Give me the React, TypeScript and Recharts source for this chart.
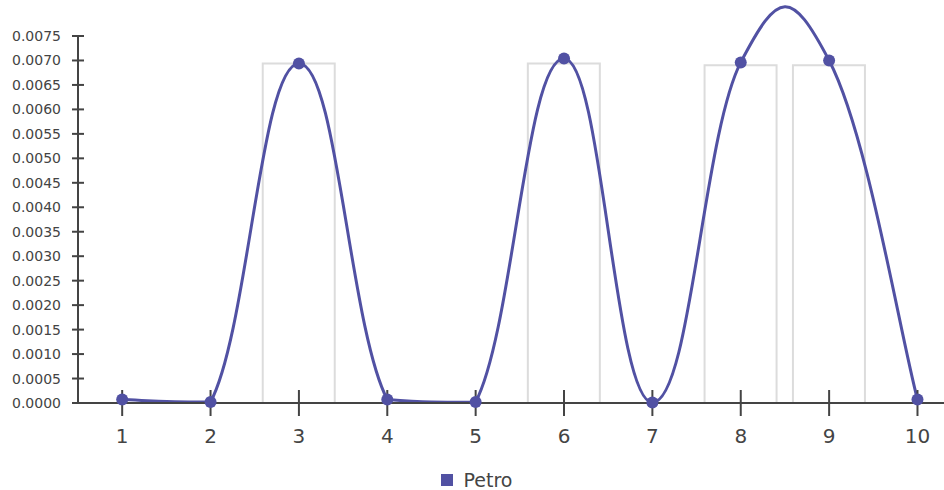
import React from 'react';
import {Bar, ComposedChart, Legend, Line, XAxis, YAxis} from 'recharts';

const xValues = [1, 2, 3, 4, 5, 6, 7, 8, 9, 10];
const petroValues = [0.00007, 0.00002, 0.00694, 0.00007, 0.00002, 0.00704, 0.00001, 0.00696, 0.00700, 0.00007];
const rangeValues = [null, null, 0.00694, null, null, 0.00694, null, 0.0069, 0.0069, null];
const yTicks = [0, 0.0005, 0.001, 0.0015, 0.002, 0.0025, 0.003, 0.0035, 0.004, 0.0045, 0.005, 0.0055, 0.006, 0.0065, 0.007, 0.0075];

const data = xValues.map((x, i) => ({x, petro: petroValues[i], range: rangeValues[i]}));

const LINE = '#5151a3';
const TEXT = '#444';
const FONT = '"DejaVu Sans", sans-serif';

// cardinal-ish spline whose control points may not go below the lowest point
const TENSION = 0.215;
const clampedSpline = (context: any) => {
    let pts: number[][] = [];
    return {
        areaStart() {},
        areaEnd() {},
        lineStart() { pts = []; },
        point(x: number, y: number) { pts.push([+x, +y]); },
        lineEnd() {
            const n = pts.length;
            if (!n) return;
            context.moveTo(pts[0][0], pts[0][1]);
            const floor = Math.max(...pts.map(p => p[1]));
            const tangent = (i: number) => {
                const a = pts[Math.max(i - 1, 0)];
                const b = pts[Math.min(i + 1, n - 1)];
                return [(b[0] - a[0]) * TENSION, (b[1] - a[1]) * TENSION];
            };
            for (let i = 0; i < n - 1; i++) {
                const p = pts[i], q = pts[i + 1];
                const t0 = tangent(i), t1 = tangent(i + 1);
                context.bezierCurveTo(
                    p[0] + t0[0], Math.min(p[1] + t0[1], floor),
                    q[0] - t1[0], Math.min(q[1] - t1[1], floor),
                    q[0], q[1]);
            }
        },
    };
};

const renderLegend = (props: any) => {
    const items = (props.payload || []).filter((p: any) => p.type !== 'none');
    return <div style={{display: 'flex', justifyContent: 'center', paddingLeft: 9}}>
        {items.map((p: any) => <div key={p.value} style={{display: 'flex', alignItems: 'center', height: 18, lineHeight: '18px'}}>
            <svg width={12} height={12} style={{marginRight: 11}}>
                <rect width={12} height={12} fill={p.color}/>
            </svg>
            <span style={{fontFamily: FONT, fontSize: 19, color: TEXT}}>{p.value}</span>
        </div>)}
    </div>;
};

export default function App() {
    return <div style={{position: 'absolute', left: 0, top: 0, width: 944, height: 490, background: '#fff'}}>
        <ComposedChart width={944} height={490} data={data} margin={{top: 36, right: 0, left: 0, bottom: 37}}>
            <XAxis dataKey="x" type="number" domain={[0.5, 10.3]} ticks={xValues} interval={0} height={50}
                   tickSize={26} tickMargin={0}
                   axisLine={{stroke: TEXT, strokeWidth: 2}}
                   tickLine={{stroke: TEXT, strokeWidth: 2, transform: 'translate(0,-13)'}}
                   tick={{fill: TEXT, fontSize: 20, fontFamily: FONT}}/>
            <YAxis domain={[0, 0.0075]} ticks={yTicks} interval={0} width={78}
                   tickSize={12} tickMargin={5} tickFormatter={(v: number) => v.toFixed(4)}
                   axisLine={{stroke: TEXT, strokeWidth: 2}}
                   tickLine={{stroke: TEXT, strokeWidth: 2, transform: 'translate(6,0)'}}
                   tick={{fill: TEXT, fontSize: 14, fontFamily: FONT}}/>
            <Bar dataKey="range" name="Range" barSize={72} fill="none" stroke="#dcdcdc" strokeWidth={2}
                 legendType="none" isAnimationActive={false}/>
            <Line dataKey="petro" name="Petro" type={clampedSpline as any} stroke={LINE} strokeWidth={3}
                  dot={{r: 6, fill: LINE, stroke: 'none'}} activeDot={false} legendType="square"
                  isAnimationActive={false}/>
            <Legend verticalAlign="middle" align="center" content={renderLegend}
                    wrapperStyle={{top: 471, left: 0, width: 944}}/>
        </ComposedChart>
    </div>;
}
